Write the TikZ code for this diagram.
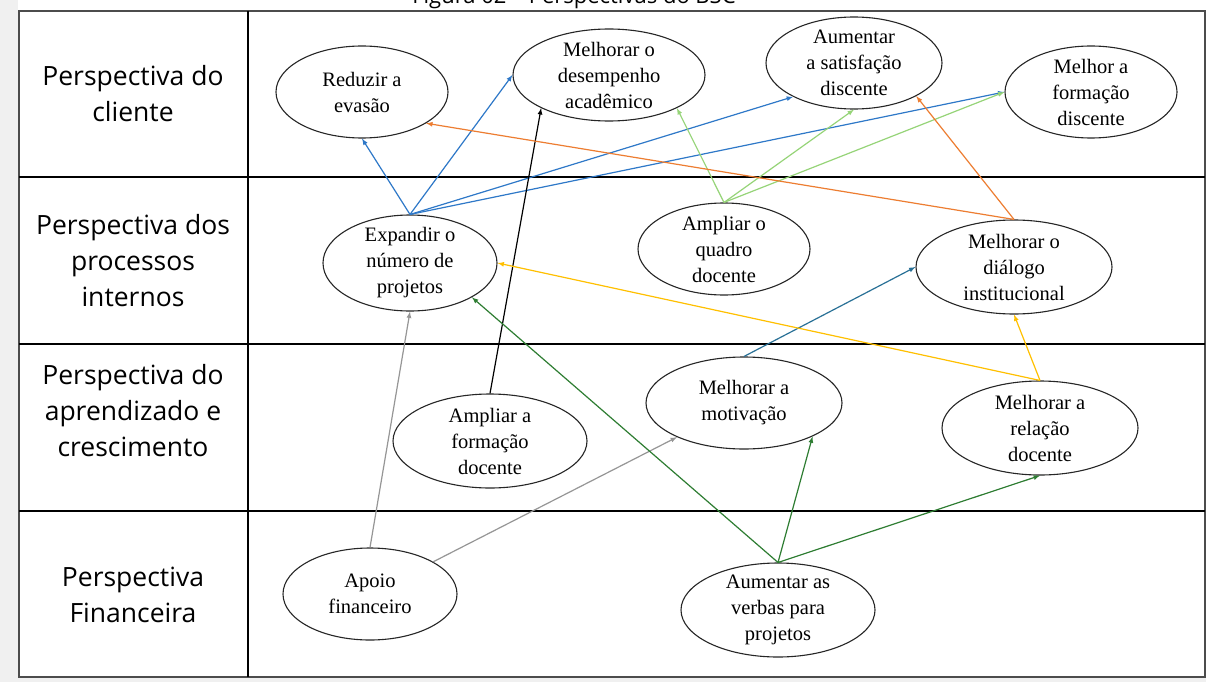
\documentclass[tikz,border=0pt]{standalone}
\usepackage{fontspec}
\setmainfont{Liberation Serif}
\setsansfont{Open Sans}
\usepackage{tikz}
\usetikzlibrary{
shapes,
arrows,
positioning,
calc
}
\definecolor{azul}{RGB}{46,120,200}
\definecolor{verdeclaro}{RGB}{150,212,120}
\definecolor{laranja}{RGB}{237,125,49}
\definecolor{azulpetroleo}{RGB}{40,112,150}
\definecolor{amarelo}{RGB}{255,192,0}
\definecolor{cinza}{RGB}{150,150,150}
\definecolor{verdeescuro}{RGB}{46,125,50}

\begin{document}
\begin{tikzpicture}[x=1pt,y=-1pt,>=latex,
    obj/.style={ellipse, draw=black!85, line width=1.1pt, inner sep=-20pt, align=center,
      font=\fontsize{20.5}{26}\selectfont},
    persp/.style={align=center, font=\sffamily\fontsize{26.5}{36}\selectfont},
    seta/.style={->, line width=1.2pt}]
    \useasboundingbox (0,0) rectangle (1206,682);
    \fill[black!6] (0,0) rectangle (1206,682);
    \fill[white] (18,0) rectangle (1206,677);
    \node[font=\sffamily\fontsize{22}{26}\selectfont, anchor=base] (titulo) at (574,4) {Figura 02 – Perspectivas do BSC};
    % quadro das perspectivas
    \coordinate (tl) at (19,11);
    \coordinate (br) at (1205,677);
    \draw[line width=1.5pt, black!70] (tl) rectangle (br);
    \draw[line width=1.2pt] (248,11) -- (248,677);
    \foreach \y in {177,344,511}
      \draw[line width=1.2pt] (19,\y) -- (1205,\y);
    \node[persp] (pcli) at (133,94) {Perspectiva do\\cliente};
    \node[persp] (pproc) at (133,261) {Perspectiva dos\\processos\\internos};
    \node[persp] (papr) at (133,411) {Perspectiva do\\aprendizado e\\crescimento};
    \node[persp] (pfin) at (133,595) {Perspectiva\\Financeira};
    % objetivos
    \node[obj, minimum width=172, minimum height=92] (reduzir) at (362,92) {Reduzir a\\evasão};
    \node[obj, minimum width=192, minimum height=92] (desempenho) at (609,75) {Melhorar o\\desempenho\\acadêmico};
    \node[obj, minimum width=176, minimum height=92] (satisf) at (854,63) {Aumentar\\a satisfação\\discente};
    \node[obj, minimum width=172, minimum height=92] (formacao) at (1091,92) {Melhor a\\formação\\discente};
    \node[obj, minimum width=174, minimum height=96] (expandir) at (410,263) {Expandir o\\número de\\projetos};
    \node[obj, minimum width=172, minimum height=92] (quadro) at (724,249) {Ampliar o\\quadro\\docente};
    \node[obj, minimum width=196, minimum height=94] (dialogo) at (1014,267) {Melhorar o\\diálogo\\institucional};
    \node[obj, minimum width=194, minimum height=94] (ampliarform) at (490,441) {Ampliar a\\formação\\docente};
    \node[obj, minimum width=196, minimum height=92] (motivacao) at (744,403) {Melhorar a\\motivação};
    \node[obj, minimum width=196, minimum height=94] (relacao) at (1040,428) {Melhorar a\\relação\\docente};
    \node[obj, minimum width=174, minimum height=92] (apoio) at (370,594) {Apoio\\financeiro};
    \node[obj, minimum width=194, minimum height=94] (verbas) at (778,610) {Aumentar as\\verbas para\\projetos};
    % relacoes de causa e efeito
    \draw[seta,azul] (expandir.north) -- (reduzir.south);
    \draw[seta,azul] (expandir.north) -- (desempenho.west);
    \draw[seta,azul] (expandir.north) -- (satisf.209);
    \draw[seta,azul] (expandir.north) -- (formacao.west);
    \draw[seta,black] (ampliarform.north) -- (desempenho.206);
    \draw[seta,verdeclaro] (quadro.north) -- (desempenho.334);
    \draw[seta,verdeclaro] (quadro.north) -- (satisf.south);
    \draw[seta,verdeclaro] (quadro.north) -- (formacao.west);
    \draw[seta,laranja] (dialogo.north) -- (reduzir.334);
    \draw[seta,laranja] (dialogo.north) -- (satisf.332);
    \draw[seta,azulpetroleo] (motivacao.north) -- (dialogo.west);
    \draw[seta,amarelo] (relacao.north) -- (expandir.east);
    \draw[seta,amarelo] (relacao.north) -- (dialogo.south);
    \draw[seta,cinza] (apoio.north) -- (expandir.south);
    \draw[seta,cinza] (apoio.27) -- (motivacao.207);
    \draw[seta,verdeescuro] (verbas.north) -- (expandir.331);
    \draw[seta,verdeescuro] (verbas.north) -- (motivacao.334);
    \draw[seta,verdeescuro] (verbas.north) -- (relacao.south);
\end{tikzpicture}
\end{document}
